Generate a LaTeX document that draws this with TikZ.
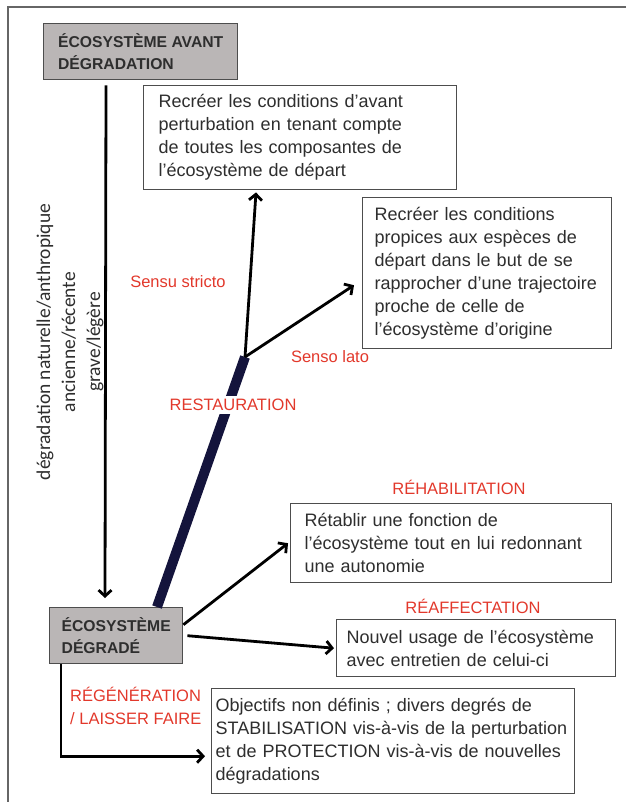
\documentclass[tikz,border=0pt]{standalone}
\usepackage{fontspec}
\setmainfont{Liberation Sans}
\newfontfamily\calib{Carlito}
\usetikzlibrary{arrows.meta}
\definecolor{txt}{HTML}{2E2E2E}
\definecolor{boxline}{HTML}{4D4D4D}
\definecolor{grayfill}{HTML}{BAB6B6}
\definecolor{redlab}{HTML}{E2382B}
\definecolor{navy}{HTML}{14143C}
\definecolor{framec}{HTML}{666666}
\tikzset{
  graybox/.style={draw=boxline, line width=1.4pt, fill=grayfill, text=txt, align=left, anchor=north west, inner sep=0pt,
    font=\bfseries\fontsize{15.7}{22}\selectfont},
  wbox/.style={draw=boxline, line width=1.4pt, fill=white, text=txt, align=left, anchor=north west, inner ysep=0pt,
    font=\fontsize{18}{23}\selectfont},
  redtext/.style={text=redlab, font=\fontsize{16.5}{23}\selectfont, inner sep=0pt},
  arr/.style={draw=black, line width=2.8pt, -{Straight Barb[length=6pt,width=13pt]}},
  trunk/.style={draw=navy, line width=10pt},
  frameline/.style={draw=framec, line width=1.5pt}
}
\begin{document}
\begin{tikzpicture}[x=1pt,y=-1pt]
\useasboundingbox (0,0) rectangle (626,802);
\draw[frameline] (626,7) -- (8,7) -- (8,802);

\node[graybox, minimum width=194pt, minimum height=56pt] (avant) at (43,23) {ÉCOSYSTÈME AVANT\\DÉGRADATION};
\node[graybox, minimum width=133pt, minimum height=56pt] (degr) at (49,607) {ÉCOSYSTÈME\\DÉGRADÉ};

\node[wbox, inner xsep=15pt, text width=283pt, minimum height=104pt] (b3) at (143,85)
  {Recréer les conditions d’avant\\perturbation en tenant compte\\de toutes les composantes de\\l’écosystème de départ};
\node[wbox, inner xsep=12pt, text width=225pt, minimum height=151pt] (b4) at (362,197)
  {Recréer les conditions\\propices aux espèces de\\départ dans le but de se\\rapprocher d’une trajectoire\\proche de celle de\\l’écosystème d’origine};
\node[wbox, inner xsep=14pt, text width=293pt, minimum height=79pt] (b5) at (290,503)
  {Rétablir une fonction de\\l’écosystème tout en lui redonnant\\une autonomie};
\node[wbox, inner xsep=10pt, text width=259pt, minimum height=57pt] (b6) at (336,619)
  {Nouvel usage de l’écosystème\\avec entretien de celui-ci};
\node[wbox, inner xsep=4pt, text width=355pt, minimum height=105pt] (b7) at (211,688)
  {Objectifs non définis ; divers degrés de\\STABILISATION vis-à-vis de la perturbation\\et de PROTECTION vis-à-vis de nouvelles\\dégradations};

\node[rotate=90, align=center, text=txt, inner sep=0pt, font=\calib\fontsize{19.5}{25}\selectfont] (degtxt) at (70,342)
  {dégradation naturelle/anthropique\\ancienne/récente\\grave/légère};

\coordinate (br) at (245,357);
\draw[trunk] ([xshift=108pt]degr.north west) -- (br);

\node[redtext] (strict) at (178,282) {Sensu stricto};
\node[redtext] (lato) at (330,357) {Senso lato};
\node[redtext, fill=white, inner xsep=2pt, inner ysep=3pt] (resto) at (233,405) {RESTAURATION};
\node[redtext] (rehab) at (459,487) {RÉHABILITATION};
\node[redtext] (reaff) at (473,606) {RÉAFFECTATION};
\node[redtext, align=left, anchor=west] (regen) at (70,706) {RÉGÉNÉRATION\\/ LAISSER FAIRE};

\draw[arr] ([xshift=63pt,yshift=-5pt]avant.south west) -- ([xshift=56pt,yshift=9pt]degr.north west);
\draw[arr] (br) -- ([xshift=113pt,yshift=-2pt]b3.south west);
\draw[arr] (br) -- ([xshift=-8pt,yshift=-12pt]b4.west);
\draw[arr] ([yshift=11pt]degr.east) -- ([xshift=-2pt]b5.west);
\draw[arr] ([xshift=4pt]degr.east) -- ([xshift=-2pt]b6.west);
\draw[arr] ([xshift=12pt]degr.south west) |- ([xshift=-6pt,yshift=-15pt]b7.west);
\end{tikzpicture}
\end{document}
